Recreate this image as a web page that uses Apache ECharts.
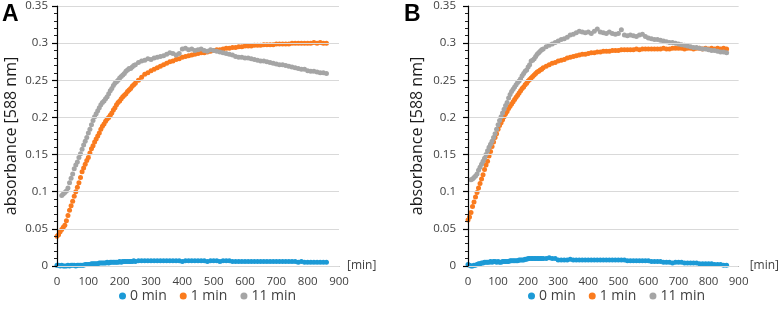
<!DOCTYPE html>
<html>
<head>
<meta charset="utf-8">
<script src="https://cdn.jsdelivr.net/npm/echarts@6/dist/echarts.min.js"></script>
<style>
  html, body { margin: 0; padding: 0; background: #fff; }
  #chart { width: 782px; height: 311px; }
</style>
</head>
<body>
<div id="chart"></div>
<script>
// sampling times [min]
const times = [
  0, 5, 10, 15, 20, 25, 30, 35, 40, 45,
  50, 55, 60, 65, 70, 75, 80, 85, 90, 95,
  100, 105, 110, 115, 120, 125, 130, 135, 140, 145,
  150, 155, 160, 165, 170, 175, 180, 185, 190, 195,
  200, 205, 210, 215, 220, 225, 230, 235, 240, 245,
  250, 260, 270, 280, 290, 300, 310, 320, 330, 340,
  350, 360, 370, 380, 390, 400, 410, 420, 430, 440,
  450, 460, 470, 480, 490, 500, 510, 520, 530, 540,
  550, 560, 570, 580, 590, 600, 610, 620, 630, 640,
  650, 660, 670, 680, 690, 700, 710, 720, 730, 740,
  750, 760, 770, 780, 790, 800, 810, 820, 830, 840,
  850, 860
];

const seriesNames = ['0 min', '1 min', '11 min'];
const colors = ['#1c9ad6', '#fa7b1e', '#a5a5a5'];
const yTicks = [0, 0.05, 0.1, 0.15, 0.2, 0.25, 0.3, 0.35];
const xTicks = [0, 100, 200, 300, 400, 500, 600, 700, 800, 900];

// panel A
const a0 = [
  0.001, 0.001, 0.000, 0.001, 0.000, 0.000, 0.000, 0.001, 0.000, 0.001,
  0.001, 0.001, 0.000, 0.001, 0.001, 0.001, 0.001, 0.001, 0.002, 0.002,
  0.002, 0.002, 0.003, 0.003, 0.003, 0.003, 0.003, 0.004, 0.004, 0.004,
  0.004, 0.004, 0.005, 0.004, 0.005, 0.005, 0.005, 0.005, 0.005, 0.005,
  0.006, 0.005, 0.006, 0.006, 0.006, 0.006, 0.006, 0.006, 0.006, 0.007,
  0.006, 0.007, 0.007, 0.007, 0.007, 0.007, 0.007, 0.007, 0.007, 0.007,
  0.007, 0.007, 0.007, 0.007, 0.007, 0.006, 0.007, 0.007, 0.007, 0.007,
  0.007, 0.007, 0.007, 0.006, 0.007, 0.007, 0.007, 0.006, 0.007, 0.007,
  0.007, 0.006, 0.006, 0.006, 0.006, 0.006, 0.006, 0.006, 0.006, 0.006,
  0.006, 0.006, 0.006, 0.006, 0.006, 0.006, 0.006, 0.006, 0.006, 0.006,
  0.006, 0.006, 0.005, 0.006, 0.005, 0.005, 0.005, 0.005, 0.005, 0.005,
  0.005, 0.005
];
const a1 = [
  0.040, 0.042, 0.046, 0.049, 0.052, 0.055, 0.061, 0.068, 0.075, 0.081,
  0.087, 0.094, 0.100, 0.106, 0.112, 0.119, 0.127, 0.132, 0.137, 0.142,
  0.146, 0.152, 0.158, 0.162, 0.167, 0.171, 0.175, 0.179, 0.184, 0.188,
  0.191, 0.195, 0.198, 0.200, 0.203, 0.206, 0.210, 0.213, 0.217, 0.220,
  0.222, 0.225, 0.228, 0.230, 0.232, 0.235, 0.237, 0.239, 0.242, 0.244,
  0.246, 0.250, 0.254, 0.258, 0.260, 0.263, 0.265, 0.267, 0.269, 0.271,
  0.273, 0.275, 0.276, 0.278, 0.279, 0.281, 0.282, 0.283, 0.284, 0.285,
  0.286, 0.287, 0.287, 0.288, 0.289, 0.290, 0.291, 0.291, 0.292, 0.293,
  0.293, 0.294, 0.294, 0.295, 0.295, 0.296, 0.296, 0.296, 0.297, 0.297,
  0.297, 0.298, 0.298, 0.298, 0.298, 0.299, 0.299, 0.299, 0.299, 0.299,
  0.300, 0.300, 0.300, 0.300, 0.300, 0.300, 0.300, 0.301, 0.300, 0.301,
  0.300, 0.300
];
const a11 = [
  null, null, null, 0.095, 0.097, 0.099, 0.101, 0.105, 0.112, 0.118,
  0.124, 0.131, 0.136, 0.140, 0.146, 0.151, 0.157, 0.163, 0.168, 0.173,
  0.179, 0.184, 0.190, 0.196, 0.201, 0.205, 0.209, 0.213, 0.217, 0.220,
  0.222, 0.225, 0.228, 0.232, 0.236, 0.239, 0.243, 0.246, 0.248, 0.250,
  0.253, 0.255, 0.257, 0.259, 0.262, 0.264, 0.266, 0.266, 0.268, 0.270,
  0.271, 0.274, 0.276, 0.277, 0.279, 0.278, 0.280, 0.281, 0.282, 0.283,
  0.285, 0.287, 0.286, 0.284, 0.286, 0.292, 0.293, 0.291, 0.292, 0.290,
  0.291, 0.292, 0.290, 0.289, 0.291, 0.290, 0.289, 0.288, 0.287, 0.286,
  0.285, 0.284, 0.282, 0.281, 0.281, 0.280, 0.280, 0.279, 0.278, 0.277,
  0.276, 0.276, 0.275, 0.274, 0.273, 0.272, 0.271, 0.271, 0.270, 0.269,
  0.268, 0.267, 0.266, 0.265, 0.265, 0.263, 0.262, 0.262, 0.261, 0.260,
  0.260, 0.259
];

// panel B
const b0 = [
  0.002, 0.001, 0.000, 0.000, 0.001, 0.001, 0.002, 0.003, 0.003, 0.004,
  0.004, 0.005, 0.005, 0.005, 0.005, 0.006, 0.005, 0.006, 0.006, 0.005,
  0.006, 0.005, 0.005, 0.006, 0.006, 0.006, 0.006, 0.006, 0.007, 0.007,
  0.007, 0.007, 0.007, 0.007, 0.008, 0.008, 0.008, 0.008, 0.009, 0.009,
  0.010, 0.010, 0.010, 0.010, 0.010, 0.010, 0.010, 0.010, 0.010, 0.010,
  0.010, 0.010, 0.011, 0.010, 0.010, 0.008, 0.008, 0.008, 0.008, 0.009,
  0.008, 0.008, 0.008, 0.008, 0.008, 0.008, 0.008, 0.008, 0.008, 0.008,
  0.008, 0.008, 0.008, 0.008, 0.008, 0.008, 0.008, 0.008, 0.007, 0.007,
  0.007, 0.007, 0.007, 0.007, 0.007, 0.007, 0.006, 0.006, 0.006, 0.006,
  0.005, 0.005, 0.005, 0.004, 0.005, 0.005, 0.005, 0.004, 0.004, 0.004,
  0.004, 0.004, 0.003, 0.003, 0.003, 0.003, 0.003, 0.002, 0.002, 0.002,
  0.001, 0.001
];
const b1 = [
  0.062, 0.066, 0.072, 0.080, 0.086, 0.093, 0.099, 0.105, 0.111, 0.117,
  0.123, 0.130, 0.136, 0.141, 0.148, 0.154, 0.161, 0.167, 0.173, 0.178,
  0.184, 0.189, 0.193, 0.197, 0.201, 0.205, 0.208, 0.212, 0.215, 0.218,
  0.221, 0.224, 0.227, 0.230, 0.233, 0.236, 0.239, 0.241, 0.244, 0.246,
  0.249, 0.251, 0.253, 0.255, 0.257, 0.259, 0.261, 0.262, 0.264, 0.265,
  0.267, 0.269, 0.271, 0.273, 0.274, 0.276, 0.277, 0.278, 0.280, 0.281,
  0.282, 0.283, 0.284, 0.285, 0.285, 0.286, 0.287, 0.287, 0.288, 0.288,
  0.289, 0.289, 0.289, 0.290, 0.290, 0.290, 0.291, 0.291, 0.291, 0.291,
  0.291, 0.292, 0.291, 0.292, 0.292, 0.292, 0.292, 0.292, 0.292, 0.292,
  0.293, 0.292, 0.292, 0.293, 0.293, 0.293, 0.293, 0.292, 0.293, 0.293,
  0.292, 0.293, 0.293, 0.292, 0.293, 0.292, 0.293, 0.292, 0.293, 0.292,
  0.293, 0.292
];
const b11 = [
  null, null, 0.116, 0.117, 0.119, 0.121, 0.124, 0.129, 0.133, 0.137,
  0.141, 0.145, 0.150, 0.155, 0.160, 0.164, 0.168, 0.173, 0.178, 0.184,
  0.190, 0.196, 0.201, 0.206, 0.211, 0.216, 0.220, 0.226, 0.231, 0.235,
  0.238, 0.241, 0.244, 0.247, 0.249, 0.252, 0.256, 0.259, 0.262, 0.264,
  0.268, 0.271, 0.276, 0.277, 0.279, 0.282, 0.285, 0.287, 0.289, 0.291,
  0.292, 0.295, 0.297, 0.299, 0.301, 0.303, 0.305, 0.306, 0.308, 0.311,
  0.312, 0.314, 0.316, 0.315, 0.314, 0.315, 0.313, 0.316, 0.319, 0.315,
  0.314, 0.313, 0.315, 0.313, 0.312, 0.313, 0.318, 0.311, 0.310, 0.311,
  0.310, 0.309, 0.311, 0.312, 0.309, 0.307, 0.306, 0.305, 0.305, 0.304,
  0.303, 0.302, 0.301, 0.301, 0.300, 0.299, 0.298, 0.297, 0.296, 0.295,
  0.294, 0.294, 0.293, 0.292, 0.292, 0.291, 0.290, 0.290, 0.289, 0.288,
  0.288, 0.287
];

const FONT = 'Open Sans';

function pairs(vals) {
  return times.map((t, i) => vals[i] == null ? null : [t, vals[i]]).filter(p => p);
}

function xAxisFor(idx, gap) {
  return {
    type: 'value', gridIndex: idx,
    min: xTicks[0], max: xTicks[xTicks.length - 1], interval: 100,
    name: '[min]', nameLocation: 'end', nameGap: gap,
    nameTextStyle: { color: '#404040', fontSize: 12, fontFamily: FONT },
    axisLine: { show: true, onZero: false, lineStyle: { color: '#7f7f7f', width: 1 } },
    axisTick: { show: false },
    axisLabel: { color: '#404040', fontSize: 11.5, fontFamily: FONT, margin: 10 },
    splitLine: { show: false }
  };
}

function yAxisFor(idx, nameGap, labelMargin) {
  return {
    type: 'value', gridIndex: idx,
    min: yTicks[0], max: yTicks[yTicks.length - 1], interval: 0.05,
    name: 'absorbance [588 nm]', nameLocation: 'middle', nameGap: nameGap,
    nameTextStyle: { color: '#1a1a1a', fontSize: 16, fontFamily: FONT },
    axisLine: { show: true, lineStyle: { color: '#000', width: 1.2 } },
    axisTick: { show: true, length: 5, lineStyle: { color: '#000', width: 1.2 } },
    minorTick: { show: true, splitNumber: 5, length: 3, lineStyle: { color: '#222' } },
    axisLabel: {
      color: '#404040', fontSize: 11.5, fontFamily: FONT, margin: labelMargin,
      formatter: v => String(+v.toFixed(2))
    },
    splitLine: { show: true, lineStyle: { color: '#d9d9d9', width: 1 } },
    z: 5
  };
}

function scatter(name, vals, color, idx) {
  return {
    name: name, type: 'scatter',
    xAxisIndex: idx, yAxisIndex: idx,
    symbol: 'circle', symbolSize: 5,
    itemStyle: { color: color, opacity: 1 },
    data: pairs(vals),
    silent: true
  };
}

function legendFor(left) {
  return {
    left: left, top: 289, orient: 'horizontal',
    icon: 'circle', itemWidth: 7, itemHeight: 7, itemGap: 13,
    padding: 0,
    textStyle: { color: '#404040', fontSize: 14, fontFamily: FONT, padding: [0, 0, 0, -1] },
    data: seriesNames
  };
}

const chart = echarts.init(document.getElementById('chart'), null, { renderer: 'canvas' });
chart.setOption({
  animation: false,
  color: colors,
  grid: [
    { left: 57, top: 6, width: 282, height: 260 },
    { left: 468, top: 6, width: 276, height: 260 }
  ],
  xAxis: [xAxisFor(0, 8), xAxisFor(1, 11)],
  yAxis: [yAxisFor(0, 38, 9), yAxisFor(1, 43, 12)],
  legend: [legendFor(119), legendFor(528)],
  graphic: [
    { type: 'text', left: 2, top: 3, style: { text: 'A', font: 'bold 23px "Liberation Sans"', fill: '#000' } },
    { type: 'text', left: 404, top: 3, style: { text: 'B', font: 'bold 23px "Liberation Sans"', fill: '#000' } }
  ],
  series: [
    scatter(seriesNames[0], a0, colors[0], 0),
    scatter(seriesNames[1], a1, colors[1], 0),
    scatter(seriesNames[2], a11, colors[2], 0),
    scatter(seriesNames[0], b0, colors[0], 1),
    scatter(seriesNames[1], b1, colors[1], 1),
    scatter(seriesNames[2], b11, colors[2], 1)
  ]
});
</script>
</body>
</html>
